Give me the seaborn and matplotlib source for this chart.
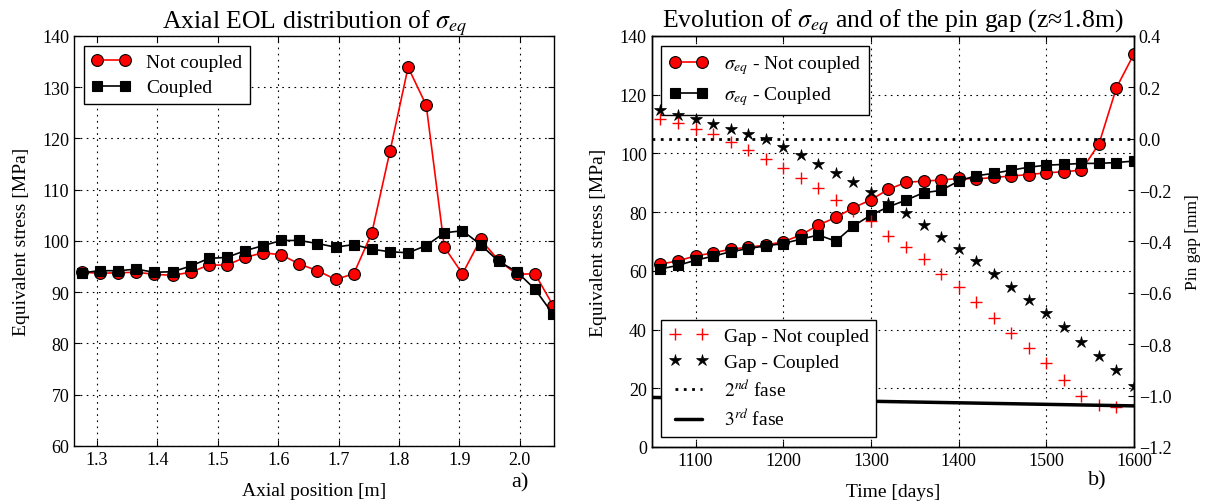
import matplotlib
matplotlib.use("Agg")
import matplotlib.pyplot as plt
import seaborn as sns

# left panel: axial EOL distribution of the equivalent stress
axialPos = [1.275, 1.305, 1.335, 1.365, 1.395, 1.425, 1.455, 1.485, 1.515,
            1.545, 1.575, 1.605, 1.635, 1.665, 1.695, 1.725, 1.755, 1.785,
            1.815, 1.845, 1.875, 1.905, 1.935, 1.965, 1.995, 2.025, 2.055]
stressNotCoupled = [93.9, 93.7, 93.8, 93.9, 93.5, 93.3, 93.9, 95.3, 95.3,
                    96.8, 97.7, 97.3, 95.5, 94.2, 92.5, 93.6, 101.6, 117.5,
                    133.9, 126.5, 98.8, 93.6, 100.3, 96.2, 93.5, 93.6, 87.4]
stressCoupled = [93.8, 94.2, 94.2, 94.5, 93.9, 94.0, 95.1, 96.6, 96.8,
                 98.1, 99.1, 100.1, 100.1, 99.5, 98.8, 99.3, 98.4, 97.9,
                 97.7, 99.1, 101.6, 102.0, 99.3, 96.0, 94.0, 90.6, 85.7]

# right panel: evolution in time at z ~ 1.8 m
timeDays = [1060, 1080, 1100, 1120, 1140, 1160, 1180, 1200, 1220, 1240,
            1260, 1280, 1300, 1320, 1340, 1360, 1380, 1400, 1420, 1440,
            1460, 1480, 1500, 1520, 1540, 1560, 1580, 1600]
sigmaNotCoupled = [62.3, 63.4, 65.1, 66.1, 67.4, 68.0, 68.8, 69.9, 72.2, 75.6,
                   78.2, 81.5, 84.2, 87.8, 90.1, 90.6, 90.9, 91.5, 91.3, 91.8,
                   92.3, 92.8, 93.4, 93.75, 94.3, 103.2, 122.4, 133.9]
sigmaCoupled = [60.6, 61.9, 63.6, 65.0, 66.5, 67.6, 68.5, 69.3, 70.8, 72.2,
                70.1, 75.3, 79.0, 81.8, 84.1, 86.6, 87.4, 90.6, 92.4, 93.2,
                94.3, 95.3, 96.0, 96.25, 96.6, 96.6, 96.9, 97.4]
gapDaysNotCoupled = timeDays[:-1]
gapNotCoupled = [0.075, 0.061, 0.039, 0.019, -0.013, -0.043, -0.078, -0.114,
                 -0.153, -0.192, -0.238, -0.282, -0.321, -0.378, -0.423,
                 -0.470, -0.527, -0.579, -0.637, -0.696, -0.755, -0.816,
                 -0.874, -0.938, -1.003, -1.036, -1.045]
gapCoupled = [0.110, 0.094, 0.078, 0.058, 0.039, 0.018, 0.0, -0.032, -0.062,
              -0.097, -0.132, -0.168, -0.207, -0.249, -0.291, -0.337, -0.382,
              -0.430, -0.476, -0.527, -0.576, -0.628, -0.680, -0.731, -0.790,
              -0.845, -0.900, -0.961]
secondFaseGap = 0.0
thirdFaseDays = [1050, 1600]
thirdFaseGap = [-1.007, -1.040]

sns.set_style("ticks")
plt.rcParams.update({
    "font.family": ["Liberation Serif", "DejaVu Serif"],
    "mathtext.fontset": "stix",
    "xtick.direction": "in",
    "ytick.direction": "in",
    "xtick.major.size": 4,
    "ytick.major.size": 4,
    "axes.edgecolor": "black",
    "axes.linewidth": 1.0,
    "xtick.color": "black",
    "ytick.color": "black",
    "text.color": "black",
    "axes.labelcolor": "black",
    "grid.color": "black",
    "grid.linestyle": (0, (1.5, 4)),
    "grid.linewidth": 0.8,
    "legend.numpoints": 2,
    "legend.fancybox": False,
    "legend.edgecolor": "black",
    "legend.framealpha": 1,
})

fig = plt.figure(figsize=(12.06, 5.02), dpi=100)
ax1 = fig.add_axes([0.0614, 0.1096, 0.3982, 0.8167])
ax2 = fig.add_axes([0.5404, 0.1076, 0.3999, 0.8187])

tickSize = 13
labelSize = 14
titleSize = 18.5
legendSize = 14

#left plot
sns.lineplot(x=axialPos, y=stressNotCoupled, ax=ax1, color="red", marker="o",
             markersize=8.5, markeredgecolor="black", markeredgewidth=0.8,
             linewidth=1.2, label="Not coupled")
sns.lineplot(x=axialPos, y=stressCoupled, ax=ax1, color="black", marker="s",
             markersize=7.5, markeredgecolor="black", markeredgewidth=0.8,
             linewidth=1.2, label="Coupled")
ax1.set_xlim(1.262, 2.057)
ax1.set_ylim(60, 140)
ax1.set_xticks([1.3, 1.4, 1.5, 1.6, 1.7, 1.8, 1.9, 2.0])
ax1.set_yticks(range(60, 141, 10))
ax1.grid(True)
ax1.tick_params(top=True, right=True, labelsize=tickSize)
ax1.set_title("Axial EOL distribution of $\\sigma_{eq}$", fontsize=titleSize)
ax1.set_xlabel("Axial position [m]", fontsize=labelSize, labelpad=10)
ax1.set_ylabel("Equivalent stress [MPa]", fontsize=labelSize, labelpad=9)
ax1.legend(loc="upper left", fontsize=legendSize, handlelength=2.0,
           borderpad=0.4, labelspacing=0.4)

#right plot, stress on the left axis
sns.lineplot(x=timeDays, y=sigmaNotCoupled, ax=ax2, color="red", marker="o",
             markersize=8.5, markeredgecolor="black", markeredgewidth=0.8,
             linewidth=1.2, label="$\\sigma_{eq}$ - Not coupled")
sns.lineplot(x=timeDays, y=sigmaCoupled, ax=ax2, color="black", marker="s",
             markersize=7.5, markeredgecolor="black", markeredgewidth=0.8,
             linewidth=1.2, label="$\\sigma_{eq}$ - Coupled")
ax2.set_xlim(1050, 1600)
ax2.set_ylim(0, 140)
ax2.set_xticks(range(1100, 1601, 100))
ax2.set_yticks(range(0, 141, 20))
ax2.grid(True)
ax2.tick_params(top=True, right=False, labelsize=tickSize)
ax2.set_xlabel("Time [days]", fontsize=labelSize, labelpad=10)
ax2.set_ylabel("Equivalent stress [MPa]", fontsize=labelSize, labelpad=9)
ax2.set_title("Evolution of $\\sigma_{eq}$ and of the pin gap (z\u22481.8m)",
              fontsize=titleSize)
ax2.legend(loc="upper left", fontsize=legendSize, handlelength=2.0,
           borderpad=0.4, labelspacing=0.4)

#pin gap on the right axis
ax3 = ax2.twinx()
sns.lineplot(x=gapDaysNotCoupled, y=gapNotCoupled, ax=ax3, color="red",
             marker="+", markersize=9, markeredgecolor="red",
             markeredgewidth=1.0, linestyle="none", label="Gap - Not coupled")
sns.lineplot(x=timeDays, y=gapCoupled, ax=ax3, color="black", marker="*",
             markersize=9, markeredgecolor="black", markeredgewidth=0.5,
             linestyle="none", label="Gap - Coupled")
ax3.axhline(secondFaseGap, color="black", linestyle=(0, (1, 2)), linewidth=2,
            label="$2^{nd}$ fase")
sns.lineplot(x=thirdFaseDays, y=thirdFaseGap, ax=ax3, color="black",
             linewidth=2.5, label="$3^{rd}$ fase")
ax3.set_xlim(1050, 1600)
ax3.set_ylim(-1.2, 0.4)
ax3.set_yticks([-1.2, -1.0, -0.8, -0.6, -0.4, -0.2, 0.0, 0.2, 0.4])
ax3.tick_params(labelsize=tickSize, direction="in")
ax3.set_ylabel("Pin gap [mm]", fontsize=12.5, labelpad=10)
ax3.legend(loc="lower left", fontsize=legendSize, handlelength=2.0,
           borderpad=0.4, labelspacing=0.4)

fig.text(0.431, 0.039, "a)", fontsize=16, ha="center", va="center")
fig.text(0.9096, 0.042, "b)", fontsize=16, ha="center", va="center")

fig.savefig("out.png", dpi=100)
